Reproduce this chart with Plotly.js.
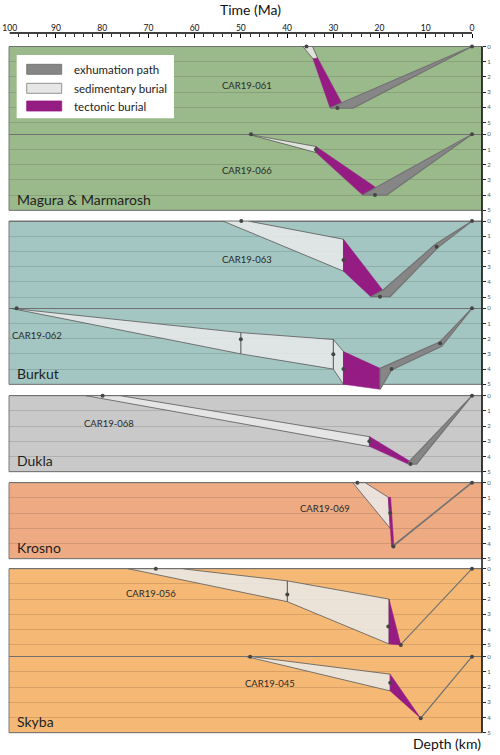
<!DOCTYPE html>
<html>
<head>
<meta charset="utf-8">
<script src="https://cdn.plot.ly/plotly-3.0.1.min.js"></script>
<style>
  html, body { margin: 0; padding: 0; background: #fff; }
  #chart { width: 500px; height: 755px; }
</style>
</head>
<body>
<div id="chart"></div>
<script>
// samples top to bottom, and the tectonic unit panels that hold them
var samples = ['CAR19-061', 'CAR19-066', 'CAR19-063', 'CAR19-062', 'CAR19-068', 'CAR19-069', 'CAR19-056', 'CAR19-045'];
var units = ['Magura & Marmarosh', 'Burkut', 'Dukla', 'Krosno', 'Skyba'];
var unitSamples = [[0, 1], [2, 3], [4], [5], [6, 7]];
var timeTicks = [100, 90, 80, 70, 60, 50, 40, 30, 20, 10, 0];
var depthTicks = [0, 1, 2, 3, 4, 5];
var legendLabels = ['exhumation path', 'sedimentary burial', 'tectonic burial'];

// polygons as [time (Ma), depth (km)]
var sed061 = [[36.6, 0], [34.5, 0], [33.4, 0.75], [34.0, 0.95]];
var tec061 = [[34.4, 0.8], [33.4, 0.75], [28.2, 3.7], [30.7, 4.05]];
var exh061 = [[30.7, 4.05], [28.2, 3.7], [0, 0], [25.7, 4.05]];

var sed066 = [[48.4, 0], [33.75, 0.8], [33.75, 1.2]];
var tec066 = [[33.75, 0.8], [20.8, 3.5], [23.65, 4.0], [33.75, 1.2]];
var exh066 = [[23.65, 4.0], [20.8, 3.5], [0, 0], [18.45, 4.0]];

var sed063 = [[53.9, 0], [48.5, 0], [27.8, 1.2], [27.8, 3.3]];
var tec063 = [[27.8, 1.2], [19.3, 4.55], [21.9, 4.98], [27.8, 3.3]];
var exh063 = [[21.9, 4.98], [19.3, 4.55], [8.0, 1.55], [0, 0], [7.4, 1.75], [17.7, 4.98]];

var sed062 = [[99.8, 0], [50.0, 1.6], [30.0, 2.05], [27.8, 2.85], [27.8, 5.0], [30.0, 4.0], [50.0, 3.0]];
var tec062 = [[27.8, 2.85], [19.9, 3.95], [19.9, 5.33], [27.8, 5.0]];
var exh062 = [[19.9, 3.95], [6.9, 2.2], [0, 0], [6.55, 2.5], [17.4, 4.05], [19.9, 5.33]];

var sed068 = [[83.5, 0], [76.1, 0], [22.1, 2.7], [22.1, 3.35]];
var tec068 = [[22.1, 2.7], [13.5, 4.3], [13.8, 4.5], [22.1, 3.35]];
var exh068 = [[13.8, 4.5], [13.5, 4.3], [0, 0], [12.0, 4.5]];

var sed069 = [[25.8, 0], [23.1, 0], [18.1, 0.96], [17.7, 3.0]];
var tec069 = [[18.1, 0.96], [17.6, 0.96], [16.9, 4.2], [17.4, 4.2]];
var exh069 = [[17.3, 4.25], [16.9, 4.1], [0.1, 0], [0, 0]];

var sed056 = [[74.35, 0], [62.8, 0], [39.95, 0.8], [17.95, 2.0], [17.95, 4.95], [39.95, 2.17]];
var tec056 = [[17.95, 2.0], [15.4, 5.02], [17.95, 4.95]];
var exh056 = [[15.6, 5.05], [15.2, 4.92], [0, 0]];

var sed045 = [[48.7, 0], [47.6, 0], [17.7, 1.15], [17.7, 2.25]];
var tec045 = [[17.7, 1.15], [11.1, 4.05], [17.7, 2.25]];
var exh045 = [[11.3, 4.1], [10.9, 3.98], [0, 0]];

// dated points: [time, depth, min depth, max depth]
var dots061 = [[35.8, 0, 0, 0], [29.1, 4.05, 4.05, 4.05], [0, 0, 0, 0]];
var dots066 = [[47.8, 0, 0, 0], [33.75, 1.0, 0.8, 1.2], [21.0, 4.0, 4.0, 4.0], [0, 0, 0, 0]];
var dots063 = [[49.9, 0, 0, 0], [27.8, 2.57, 1.2, 3.3], [19.9, 4.98, 4.98, 4.98], [7.65, 1.69, 1.69, 1.69], [0, 0, 0, 0]];
var dots062 = [[98.5, 0, 0, 0], [50.0, 2.04, 1.6, 3.0], [30.0, 3.03, 2.05, 4.0], [27.8, 4.0, 2.85, 5.0], [17.4, 4.0, 4.0, 4.0], [6.9, 2.3, 2.3, 2.3], [0, 0, 0, 0]];
var dots068 = [[79.9, 0, 0, 0], [22.2, 3.0, 2.7, 3.35], [13.3, 4.49, 4.49, 4.49], [0, 0, 0, 0]];
var dots069 = [[24.8, 0, 0, 0], [17.7, 2.0, 2.0, 2.0], [17.0, 4.2, 4.2, 4.2], [0, 0, 0, 0]];
var dots056 = [[68.4, 0, 0, 0], [39.95, 1.69, 0.8, 2.17], [18.1, 3.8, 3.8, 3.8], [15.4, 5.02, 5.02, 5.02], [0, 0, 0, 0]];
var dots045 = [[48.0, 0, 0, 0], [17.7, 1.71, 1.71, 1.71], [11.1, 4.05, 4.05, 4.05], [0, 0, 0, 0]];

var sedPolys = [sed061, sed066, sed063, sed062, sed068, sed069, sed056, sed045];
var tecPolys = [tec061, tec066, tec063, tec062, tec068, tec069, tec056, tec045];
var exhPolys = [exh061, exh066, exh063, exh062, exh068, exh069, exh056, exh045];
var dotSets = [dots061, dots066, dots063, dots062, dots068, dots069, dots056, dots045];

// ---- layout geometry (pixels) ----
var W = 500, H = 755, mL = 9, mR = 18, mT = 33, mB = 16;
var kmPx = 15.2, span = 5.4;
var subTop = [46.5, 134.3, 221, 308.3, 395.7, 482.7, 568.7, 656.7];
var labelPos = [[48.7, 2.57], [48.7, 2.35], [48.7, 2.5], [94.2, 1.76], [78.5, 1.82], [31.8, 1.71], [69.5, 1.62], [43.6, 1.75]];
var unitColors = ['#9bba8b', '#a3c6c2', '#c9c9c9', '#eeab83', '#f6b975'];
var sedFill = 'rgba(234,234,234,0.85)', tecFill = '#951c83', exhFill = '#868686';
var font = 'Lato, "Open Sans", sans-serif';

function py(pix) { return (H - mB - pix) / (H - mT - mB); }
function px(pix) { return (pix - mL) / (W - mL - mR); }
function col(arr, i) { return arr.map(function (p) { return p[i]; }); }
function closed(arr) { return arr.concat([arr[0]]); }
function yName(i) { return i === 0 ? 'y' : 'y' + (i + 1); }
function yKey(i) { return i === 0 ? 'yaxis' : 'yaxis' + (i + 1); }

var data = [];
samples.forEach(function (name, i) {
  var ya = yName(i);
  var polys = [
    [sedPolys[i], sedFill, '#585858', 0.8],
    [tecPolys[i], tecFill, tecFill, 0.5],
    [exhPolys[i], exhFill, '#737373', 1.2]
  ];
  polys.forEach(function (p) {
    var pts = closed(p[0]);
    data.push({
      x: col(pts, 0), y: col(pts, 1), xaxis: 'x', yaxis: ya,
      mode: 'lines', fill: 'toself', fillcolor: p[1],
      line: {color: p[2], width: p[3]},
      hoverinfo: 'skip', showlegend: false
    });
  });
  var d = dotSets[i];
  data.push({
    x: col(d, 0), y: col(d, 1), xaxis: 'x', yaxis: ya,
    mode: 'markers', cliponaxis: false,
    marker: {size: 4, color: '#454545'},
    error_y: {
      type: 'data', symmetric: false, width: 0, thickness: 1, color: '#505050',
      array: d.map(function (p) { return p[3] - p[1]; }),
      arrayminus: d.map(function (p) { return p[1] - p[2]; })
    },
    name: name, showlegend: false
  });
});

var minorTicks = [];
for (var t = 2; t < 100; t += 2) { if (t % 10) minorTicks.push(t); }

var layout = {
  width: W, height: H,
  margin: {l: mL, r: mR, t: mT, b: mB},
  paper_bgcolor: '#fff', plot_bgcolor: 'rgba(0,0,0,0)',
  font: {family: font, color: '#222'},
  showlegend: false,
  xaxis: {
    range: [100.15, -2.16], side: 'top', anchor: 'free', position: 1,
    tickmode: 'array', tickvals: timeTicks,
    ticks: 'inside', ticklen: 4, tickwidth: 1, tickcolor: '#000',
    minor: {tickmode: 'array', tickvals: minorTicks, ticks: 'inside', ticklen: 2.5, tickwidth: 0.8, tickcolor: '#000'},
    tickfont: {size: 8.5, color: '#111', family: font},
    showgrid: false, zeroline: false, showline: false, fixedrange: true
  },
  shapes: [],
  annotations: []
};

samples.forEach(function (name, i) {
  layout[yKey(i)] = {
    domain: [py(subTop[i] + span * kmPx), py(subTop[i])],
    range: [span, 0], anchor: 'x', side: 'right',
    tickmode: 'array', tickvals: depthTicks,
    ticks: 'outside', ticklen: 3, tickwidth: 1, tickcolor: '#222',
    tickfont: {size: 6, color: '#555', family: font},
    showgrid: true, gridcolor: 'rgba(0,0,0,0.12)', gridwidth: 1,
    zeroline: true, zerolinecolor: '#707070', zerolinewidth: 1,
    showline: false, fixedrange: true
  };
  layout.annotations.push({
    xref: 'x', yref: yName(i), x: labelPos[i][0], y: labelPos[i][1],
    text: name, showarrow: false, font: {size: 9.5, color: '#2a2a2a', family: font}
  });
});

// unit panels
units.forEach(function (u, k) {
  var ids = unitSamples[k];
  var top = subTop[ids[0]];
  var bot = subTop[ids[ids.length - 1]] + 5 * kmPx;
  layout.shapes.push({
    type: 'rect', xref: 'paper', yref: 'paper', layer: 'below',
    x0: 0, x1: 1, y0: py(bot), y1: py(top),
    fillcolor: unitColors[k], line: {color: '#7b7b7b', width: 1}
  });
  layout.annotations.push({
    xref: 'paper', yref: 'paper', x: px(15), y: py(bot - 11),
    xanchor: 'left', yanchor: 'middle', text: u, showarrow: false,
    font: {size: 14, color: '#1e1e1e', family: font}
  });
});

// right depth axis line and top time axis line
layout.shapes.push({
  type: 'line', xref: 'paper', yref: 'paper', layer: 'above',
  x0: 1, x1: 1, y0: py(subTop[7] + 5 * kmPx), y1: py(subTop[0]),
  line: {color: '#111', width: 1.5}
});
layout.shapes.push({
  type: 'line', xref: 'x', yref: 'paper', layer: 'above',
  x0: timeTicks[0], x1: timeTicks[timeTicks.length - 1], y0: 1, y1: 1,
  line: {color: '#000', width: 1.5}
});

// legend box
var legFills = [exhFill, '#e6e6e6', tecFill];
var legLines = ['#6a6a6a', '#7a7a7a', tecFill];
var legY = [69.3, 88.3, 106];
layout.shapes.push({
  type: 'rect', xref: 'paper', yref: 'paper', layer: 'above',
  x0: px(16.7), x1: px(174), y0: py(118.3), y1: py(55),
  fillcolor: '#fff', line: {width: 0}
});
legendLabels.forEach(function (lab, k) {
  layout.shapes.push({
    type: 'rect', xref: 'paper', yref: 'paper', layer: 'above',
    x0: px(26.7), x1: px(61.7), y0: py(legY[k] + 5), y1: py(legY[k] - 5),
    fillcolor: legFills[k], line: {color: legLines[k], width: 0.8}
  });
  layout.annotations.push({
    xref: 'paper', yref: 'paper', x: px(72), y: py(legY[k]),
    xanchor: 'left', yanchor: 'middle', text: lab, showarrow: false,
    font: {size: 11.5, color: '#222', family: font}
  });
});

// axis titles
layout.annotations.push({
  xref: 'paper', yref: 'paper', x: px(250), y: py(10),
  xanchor: 'center', yanchor: 'middle', text: 'Time (Ma)', showarrow: false,
  font: {size: 14, color: '#111', family: font}
});
layout.annotations.push({
  xref: 'paper', yref: 'paper', x: px(483), y: py(743),
  xanchor: 'right', yanchor: 'middle', text: 'Depth (km)', showarrow: false,
  font: {size: 14, color: '#111', family: font}
});

Plotly.newPlot('chart', data, layout, {staticPlot: true, displayModeBar: false});
</script>
</body>
</html>
